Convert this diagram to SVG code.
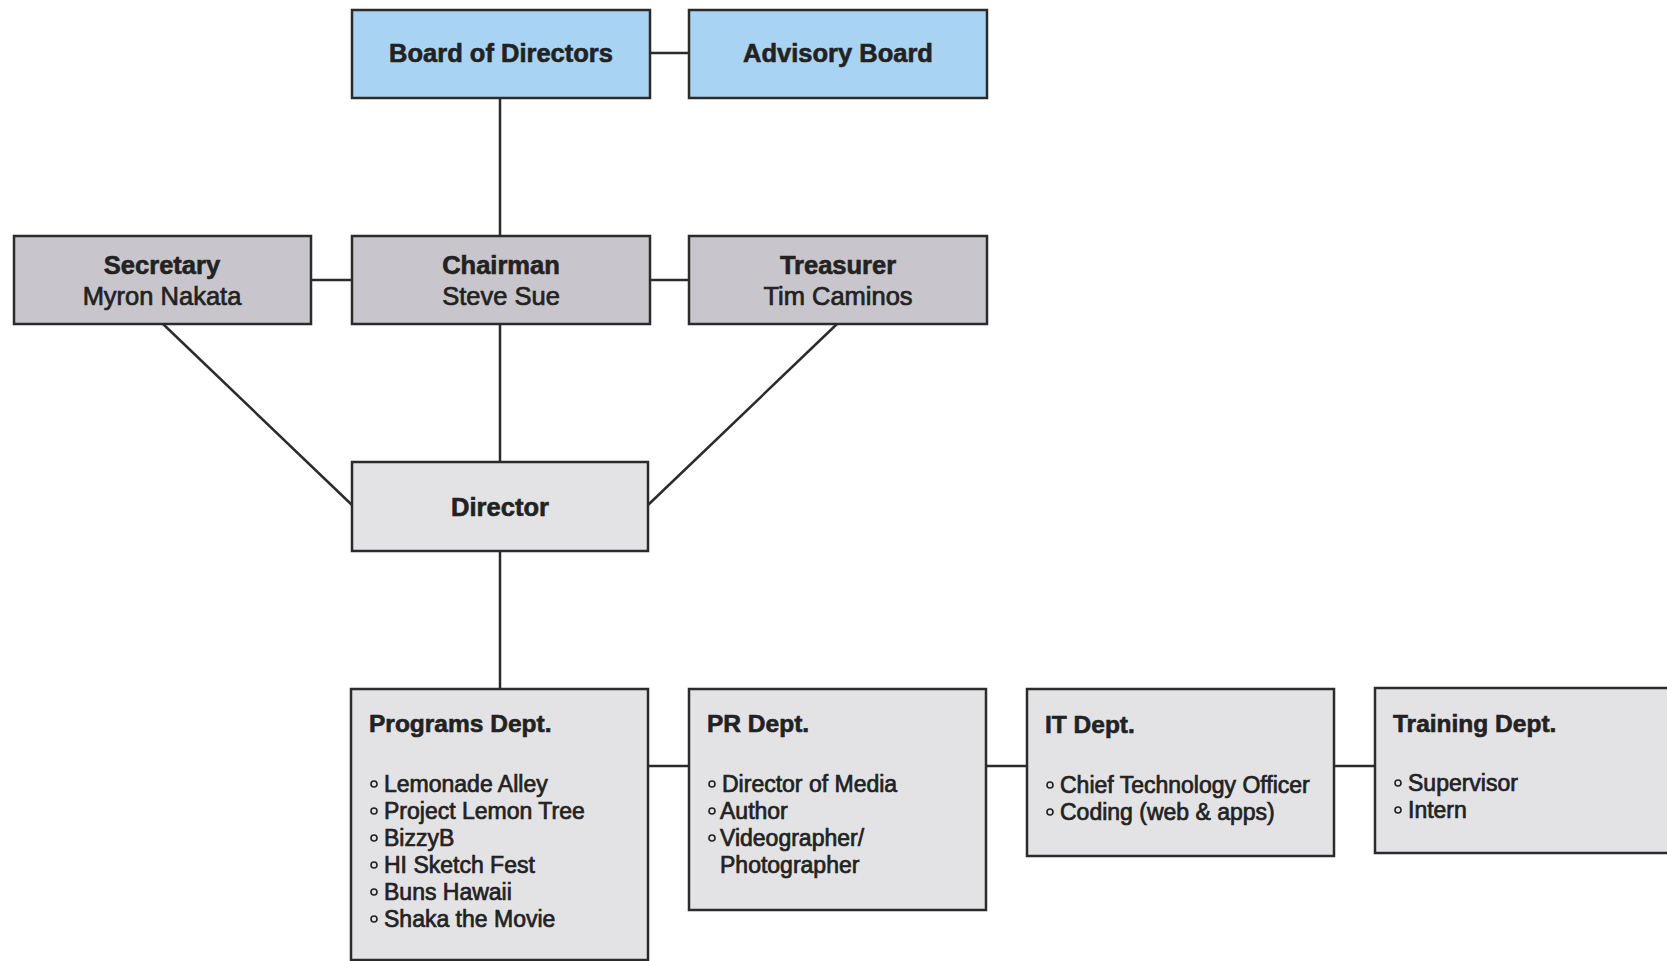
<svg xmlns="http://www.w3.org/2000/svg" width="1667" height="961" viewBox="0 0 1667 961">
<style>
.box{stroke:#2b2b2b;stroke-width:2.5}
.blue{fill:#a9d3f2}
.mid{fill:#c8c6cc}
.light{fill:#e3e2e5}
.conn line{stroke:#2b2b2b;stroke-width:2.5}
text{font-family:"Liberation Sans",Arial,sans-serif;fill:#222;stroke:#222}
.t{font-size:25.5px;font-weight:bold;text-anchor:middle;stroke-width:0.6}
.s{font-size:25.5px;text-anchor:middle;stroke-width:0.7}
.h{font-size:24.5px;font-weight:bold;stroke-width:0.6}
.b{font-size:23px;stroke-width:0.7}
.dot{fill:none;stroke:#222;stroke-width:1.6}
</style>
<g class="conn" id="connectors">
<line x1="650" y1="53" x2="689" y2="53"/>
<line x1="500" y1="98" x2="500" y2="236"/>
<line x1="311" y1="280" x2="352" y2="280"/>
<line x1="650" y1="280" x2="689" y2="280"/>
<line x1="500" y1="324" x2="500" y2="462"/>
<line x1="163" y1="324" x2="352" y2="505"/>
<line x1="837" y1="324" x2="648" y2="505"/>
<line x1="500" y1="551" x2="500" y2="689"/>
<line x1="648" y1="766" x2="689" y2="766"/>
<line x1="986" y1="766" x2="1027" y2="766"/>
<line x1="1334" y1="766" x2="1375" y2="766"/>
</g>
<g id="board">
<rect class="box blue" x="352" y="10" width="298" height="88"/>
<text class="t" x="501" y="62">Board of Directors</text>
</g>
<g id="advisory">
<rect class="box blue" x="689" y="10" width="298" height="88"/>
<text class="t" x="838" y="62">Advisory Board</text>
</g>
<g id="secretary">
<rect class="box mid" x="14" y="236" width="297" height="88"/>
<text class="t" x="162" y="274">Secretary</text>
<text class="s" x="162" y="305">Myron Nakata</text>
</g>
<g id="chairman">
<rect class="box mid" x="352" y="236" width="298" height="88"/>
<text class="t" x="501" y="274">Chairman</text>
<text class="s" x="501" y="305">Steve Sue</text>
</g>
<g id="treasurer">
<rect class="box mid" x="689" y="236" width="298" height="88"/>
<text class="t" x="838" y="274">Treasurer</text>
<text class="s" x="838" y="305">Tim Caminos</text>
</g>
<g id="director">
<rect class="box light" x="352" y="462" width="296" height="89"/>
<text class="t" x="500" y="516">Director</text>
</g>
<g id="programs">
<rect class="box light" x="351" y="689" width="297" height="271"/>
<text class="h" x="369" y="732">Programs Dept.</text>
<circle class="dot" cx="374" cy="784" r="3"/><text class="b" x="384" y="792">Lemonade Alley</text>
<circle class="dot" cx="374" cy="811" r="3"/><text class="b" x="384" y="819">Project Lemon Tree</text>
<circle class="dot" cx="374" cy="838" r="3"/><text class="b" x="384" y="846">BizzyB</text>
<circle class="dot" cx="374" cy="865" r="3"/><text class="b" x="384" y="873">HI Sketch Fest</text>
<circle class="dot" cx="374" cy="892" r="3"/><text class="b" x="384" y="900">Buns Hawaii</text>
<circle class="dot" cx="374" cy="919" r="3"/><text class="b" x="384" y="927">Shaka the Movie</text>
</g>
<g id="pr">
<rect class="box light" x="689" y="689" width="297" height="221"/>
<text class="h" x="707" y="732">PR Dept.</text>
<circle class="dot" cx="712" cy="784" r="3"/><text class="b" x="722" y="792">Director of Media</text>
<circle class="dot" cx="712" cy="811" r="3"/><text class="b" x="720" y="819">Author</text>
<circle class="dot" cx="712" cy="838" r="3"/><text class="b" x="720" y="846">Videographer/</text>
<text class="b" x="720" y="873">Photographer</text>
</g>
<g id="it">
<rect class="box light" x="1027" y="689" width="307" height="167"/>
<text class="h" x="1045" y="733">IT Dept.</text>
<circle class="dot" cx="1050" cy="785" r="3"/><text class="b" x="1060" y="793">Chief Technology Officer</text>
<circle class="dot" cx="1050" cy="812" r="3"/><text class="b" x="1060" y="820">Coding (web &amp; apps)</text>
</g>
<g id="training">
<rect class="box light" x="1375" y="688" width="300" height="165"/>
<text class="h" x="1393" y="732">Training Dept.</text>
<circle class="dot" cx="1398" cy="783" r="3"/><text class="b" x="1408" y="791">Supervisor</text>
<circle class="dot" cx="1398" cy="810" r="3"/><text class="b" x="1408" y="818">Intern</text>
</g>
</svg>
